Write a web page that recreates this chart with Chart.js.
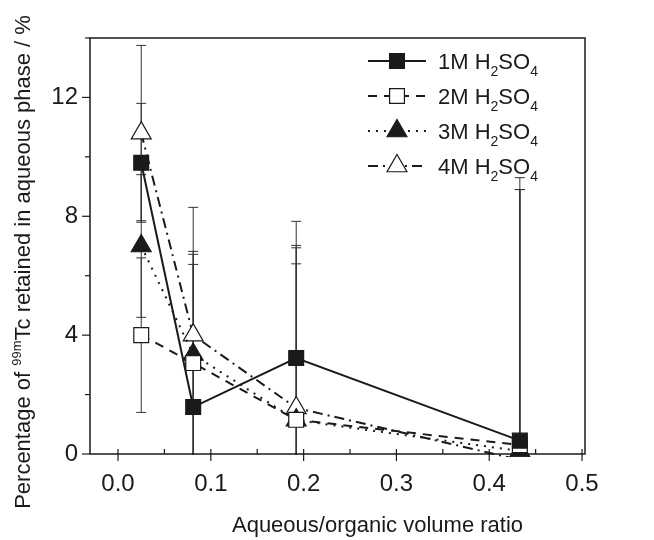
<!DOCTYPE html>
<html>
<head>
<meta charset="utf-8">
<script src="https://cdn.jsdelivr.net/npm/chart.js@4.4.0/dist/chart.umd.min.js"></script>
<style>
  html, body { margin: 0; padding: 0; background: #fff; }
  #wrap { width: 654px; height: 540px; }
</style>
</head>
<body>
<div id="wrap"><canvas id="tcChart" width="654" height="540"></canvas></div>
<script>
// volume ratios and measured values
const ratios = [0.025, 0.081, 0.192, 0.433];
const seriesNames = ["1M", "2M", "3M", "4M"];
const tc1M = [9.8, 1.58, 3.23, 0.45];
const tc2M = [4.0, 3.06, 1.15, 0.3];
const tc3M = [7.0, 3.35, 1.14, 0.1];
const tc4M = [10.8, 4.0, 1.55, -0.2];
const err1M = [2.0, 4.8, 4.6, 8.85];
const err2M = [2.6, 3.66, 5.25, 8.6];
const err3M = [2.4, 3.47, 5.8, 8.8];
const err4M = [2.95, 4.3, 5.47, 9.1];
const xTickValues = [0, 0.05, 0.1, 0.15, 0.2, 0.25, 0.3, 0.35, 0.4, 0.45, 0.5];
const xLabelValues = [0, 0.1, 0.2, 0.3, 0.4, 0.5];
const yTickValues = [0, 2, 4, 6, 8, 10, 12, 14];
const yLabelValues = [0, 4, 8, 12];

const FONT = "'Liberation Sans', Arial, sans-serif";
const INK = "#1a1a1a";

const styles = [
    { dash: [], point: "rect", fill: INK, radius: 10.5 },
    { dash: [9, 7], point: "rect", fill: "#fff", radius: 10.5 },
    { dash: [2, 6], point: "triangle", fill: INK, radius: 11.5 },
    { dash: [10, 5, 2, 5], point: "triangle", fill: "#fff", radius: 11.5 }
];
const values = [tc1M, tc2M, tc3M, tc4M];
const errors = [err1M, err2M, err3M, err4M];

const datasets = seriesNames.map((name, i) => ({
    label: name + " H2SO4",
    data: ratios.map((x, j) => ({ x: x, y: values[i][j], e: errors[i][j] })),
    borderColor: INK,
    borderWidth: 2,
    borderDash: styles[i].dash,
    pointStyle: styles[i].point,
    pointRadius: styles[i].radius,
    pointBackgroundColor: styles[i].fill,
    pointBorderColor: INK,
    pointBorderWidth: 1.2,
    tension: 0,
    clip: { left: 20, top: 20, right: 20, bottom: 3 }
}));

// error bars, drawn under the lines
const errorBars = {
    id: "errorBars",
    beforeDatasetsDraw(chart) {
        const { ctx, chartArea, scales } = chart;
        ctx.save();
        ctx.beginPath();
        ctx.rect(chartArea.left, chartArea.top, chartArea.right - chartArea.left, chartArea.bottom - chartArea.top + 1);
        ctx.clip();
        ctx.strokeStyle = "#333";
        ctx.lineWidth = 1;
        chart.data.datasets.forEach(ds => {
            ds.data.forEach(p => {
                const x = scales.x.getPixelForValue(p.x);
                const yt = scales.y.getPixelForValue(p.y + p.e);
                const yb = scales.y.getPixelForValue(p.y - p.e);
                ctx.beginPath();
                ctx.moveTo(x, yt); ctx.lineTo(x, yb);
                ctx.moveTo(x - 5, yt); ctx.lineTo(x + 5, yt);
                ctx.moveTo(x - 5, yb); ctx.lineTo(x + 5, yb);
                ctx.stroke();
            });
        });
        ctx.restore();
    }
};

// frame, tick marks, axis titles and legend
const decorations = {
    id: "decorations",
    afterDraw(chart) {
        const { ctx, chartArea: a, scales } = chart;
        ctx.save();
        ctx.strokeStyle = INK;
        ctx.lineWidth = 1.5;
        ctx.strokeRect(a.left, a.top, a.right - a.left, a.bottom - a.top);

        ctx.lineWidth = 1.2;
        xTickValues.forEach(v => {
            const x = scales.x.getPixelForValue(v);
            if (x > a.right) return;
            const major = xLabelValues.some(m => Math.abs(m - v) < 1e-6);
            ctx.beginPath();
            ctx.moveTo(x, a.bottom - 5);
            ctx.lineTo(x, a.bottom + (major ? 7 : 0));
            ctx.stroke();
        });
        yTickValues.forEach(v => {
            const y = scales.y.getPixelForValue(v);
            const major = yLabelValues.includes(v);
            ctx.beginPath();
            ctx.moveTo(a.left - (major ? 8 : 5), y);
            ctx.lineTo(a.left, y);
            ctx.stroke();
        });

        ctx.fillStyle = INK;
        ctx.textBaseline = "alphabetic";

        // x title
        ctx.font = "22px " + FONT;
        ctx.textAlign = "center";
        ctx.fillText("Aqueous/organic volume ratio", (a.left + a.right) / 2 + 40, 532);

        // y title with superscript
        ctx.save();
        ctx.translate(30, 262);
        ctx.rotate(-Math.PI / 2);
        const p1 = "Percentage of ";
        const sup = "99m";
        const p2 = "Tc retained in aqueous phase / %";
        ctx.font = "22px " + FONT;
        const w1 = ctx.measureText(p1).width;
        const w3 = ctx.measureText(p2).width;
        ctx.font = "13px " + FONT;
        const w2 = ctx.measureText(sup).width;
        const x0 = -(w1 + w2 + w3) / 2;
        ctx.textAlign = "left";
        ctx.font = "22px " + FONT;
        ctx.fillText(p1, x0, 0);
        ctx.font = "13px " + FONT;
        ctx.fillText(sup, x0 + w1, -9);
        ctx.font = "22px " + FONT;
        ctx.fillText(p2, x0 + w1 + w2, 0);
        ctx.restore();

        // legend
        const lx = 368, mx = 397, tx0 = 438;
        chart.data.datasets.forEach((ds, i) => {
            const y = 61 + i * 35;
            const st = styles[i];
            ctx.save();
            ctx.lineWidth = 2;
            ctx.setLineDash(st.dash);
            ctx.beginPath();
            ctx.moveTo(lx, y);
            ctx.lineTo(lx + 58, y);
            ctx.stroke();
            ctx.restore();
            ctx.save();
            ctx.fillStyle = st.fill;
            ctx.strokeStyle = INK;
            ctx.lineWidth = 1.2;
            Chart.helpers.drawPoint(ctx, { pointStyle: st.point, radius: st.radius, rotation: 0, borderWidth: 1.2 }, mx, y);
            ctx.restore();

            let tx = tx0;
            const base = y + 8;
            const parts = [
                [seriesNames[i] + " H", 22, 0],
                ["2", 14, 7],
                ["SO", 22, 0],
                ["4", 14, 7]
            ];
            ctx.textAlign = "left";
            parts.forEach(([t, size, dy]) => {
                ctx.font = size + "px " + FONT;
                ctx.fillText(t, tx, base + dy);
                tx += ctx.measureText(t).width;
            });
        });
        ctx.restore();
    }
};

new Chart(document.getElementById("tcChart"), {
    type: "line",
    data: { datasets: datasets },
    options: {
        responsive: false,
        animation: false,
        layout: { padding: { top: 38, right: 69, left: 0, bottom: 0 } },
        plugins: {
            legend: { display: false },
            tooltip: { enabled: false }
        },
        scales: {
            x: {
                type: "linear",
                min: -0.0302,
                max: 0.5032,
                afterFit: s => { s.height = 540 - 454; },
                afterBuildTicks: s => { s.ticks = xLabelValues.map(v => ({ value: v })); },
                grid: { display: false, drawTicks: false },
                border: { display: false },
                ticks: {
                    padding: 16,
                    color: INK,
                    font: { family: FONT, size: 24 },
                    maxRotation: 0,
                    callback: v => v.toFixed(1)
                }
            },
            y: {
                min: 0,
                max: 14,
                afterFit: s => { s.width = 90; },
                afterBuildTicks: s => { s.ticks = yLabelValues.map(v => ({ value: v })); },
                grid: { display: false, drawTicks: false },
                border: { display: false },
                ticks: {
                    padding: 12,
                    color: INK,
                    font: { family: FONT, size: 24 },
                    callback: v => String(v)
                }
            }
        }
    },
    plugins: [errorBars, decorations]
});
</script>
</body>
</html>
